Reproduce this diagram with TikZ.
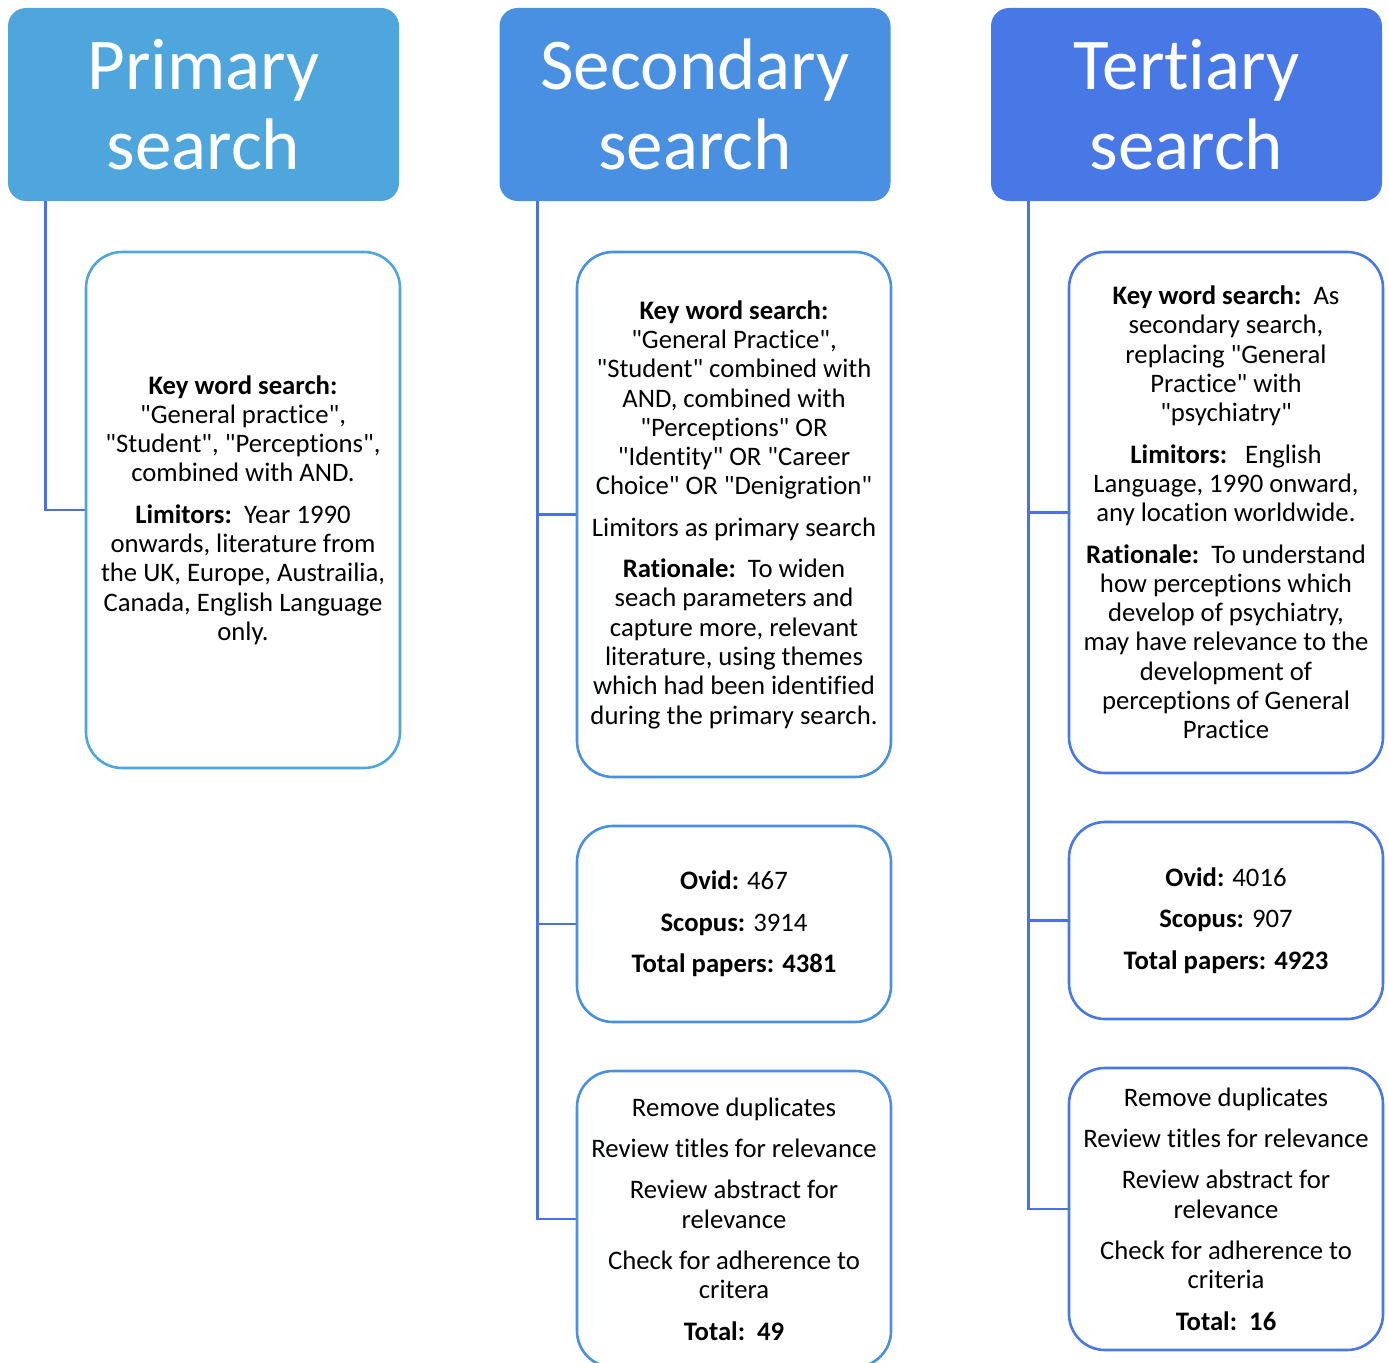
\documentclass[tikz,border=0pt]{standalone}
\usepackage{fontspec}
\setmainfont{Carlito}[Ligatures={TeXOff,NoCommon}]
\definecolor{hprim}{HTML}{4FA6DC}
\definecolor{hsec}{HTML}{4A90E2}
\definecolor{hter}{HTML}{4878E6}
\definecolor{conn}{HTML}{4A72E4}
\begin{document}
\begin{tikzpicture}[x=1pt,y=-1pt,
  header/.style={rectangle, rounded corners=18pt, minimum width=391pt, minimum height=193pt,
    inner sep=0pt, text=white, align=center, font=\fontsize{73}{80}\selectfont},
  infobox/.style={rectangle, rounded corners=36pt, draw, line width=2.6pt, fill=white,
    minimum width=314pt, inner sep=0pt, align=center, font=\fontsize{26.7}{29.3}\selectfont},
  link/.style={draw=conn, line width=2.8pt}]
\useasboundingbox (0,0) rectangle (1388,1362);

% column headers
\node[header, fill=hprim] (h1) at (203.5,104.5) {Primary\\search};
\node[header, fill=hsec]  (h2) at (695,104.5)   {Secondary\\search};
\node[header, fill=hter]  (h3) at (1186.5,104.5) {Tertiary\\search};

% primary column
\node[infobox, draw=hprim, minimum height=516pt] (p1) at (243,510) {%
\textbf{Key word search:}\\
"General practice",\\
"Student", "Perceptions",\\
combined with AND.\\[12pt]
\textbf{Limitors:}\ \ Year 1990\\
onwards, literature from\\
the UK, Europe, Austrailia,\\
Canada, English Language\\
only.};

% secondary column
\node[infobox, draw=hsec, minimum height=525pt] (s1) at (734,514.5) {%
\textbf{Key word search:}\\
"General Practice",\\
"Student" combined with\\
AND, combined with\\
"Perceptions" OR\\
"Identity" OR "Career\\
Choice" OR "Denigration"\\[12pt]
Limitors as primary search\\[12pt]
\textbf{Rationale:}\ \ To widen\\
seach parameters and\\
capture more, relevant\\
literature, using themes\\
which had been identified\\
during the primary search.};

\node[infobox, draw=hsec, minimum height=196pt] (s2) at (734,924) {%
\textbf{Ovid:} 467\\[12pt]
\textbf{Scopus:} 3914\\[12pt]
\textbf{Total papers: 4381}};

\node[infobox, draw=hsec, minimum height=296pt] (s3) at (734,1219) {%
Remove duplicates\\[12pt]
Review titles for relevance\\[12pt]
Review abstract for\\
relevance\\[12pt]
Check for adherence to\\
critera\\[12pt]
\textbf{Total:\ \ 49}};

% tertiary column
\node[infobox, draw=hter, minimum height=521pt] (t1) at (1226,512.5) {%
\textbf{Key word search:}\ \ As\\
secondary search,\\
replacing "General\\
Practice" with\\
"psychiatry"\\[12pt]
\textbf{Limitors:}\ \ \ English\\
Language, 1990 onward,\\
any location worldwide.\\[12pt]
\textbf{Rationale:}\ \ To understand\\
how perceptions which\\
develop of psychiatry,\\
may have relevance to the\\
development of\\
perceptions of General\\
Practice};

\node[infobox, draw=hter, minimum height=197pt] (t2) at (1226,920.5) {%
\textbf{Ovid:} 4016\\[12pt]
\textbf{Scopus:} 907\\[12pt]
\textbf{Total papers: 4923}};

\node[infobox, draw=hter, minimum height=282pt] (t3) at (1226,1209) {%
Remove duplicates\\[12pt]
Review titles for relevance\\[12pt]
Review abstract for\\
relevance\\[12pt]
Check for adherence to\\
criteria\\[12pt]
\textbf{Total:\ \ 16}};

% connectors from each header down to its boxes
\path[link] (h1.south west) ++(38,0) |- (p1.west);
\path[link] (h2.south west) ++(38,0) |- (s1.west);
\path[link] (h2.south west) ++(38,0) |- (s2.west);
\path[link] (h2.south west) ++(38,0) |- (s3.west);
\path[link] (h3.south west) ++(38,0) |- (t1.west);
\path[link] (h3.south west) ++(38,0) |- (t2.west);
\path[link] (h3.south west) ++(38,0) |- (t3.west);
\end{tikzpicture}
\end{document}
